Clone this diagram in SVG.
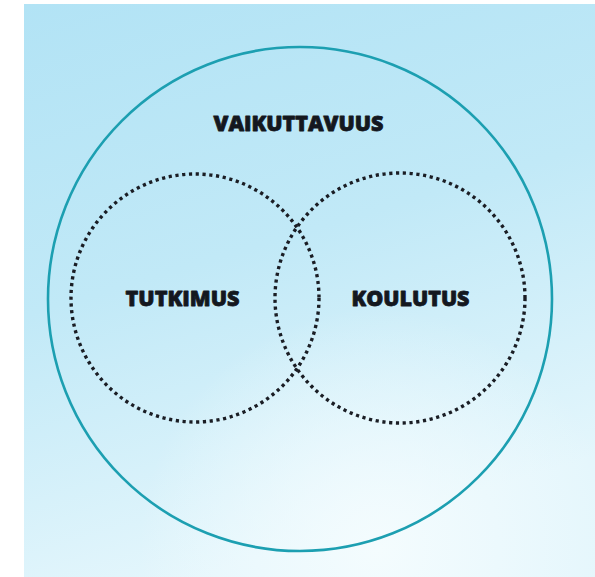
<svg xmlns="http://www.w3.org/2000/svg" width="595" height="577" viewBox="0 0 595 577">
<defs>
<linearGradient id="bg" x1="0" y1="0" x2="0.3" y2="1">
<stop offset="0" stop-color="#b2e3f5"/>
<stop offset="0.5" stop-color="#c1e9f7"/>
<stop offset="1" stop-color="#e4f6fc"/>
</linearGradient>
<radialGradient id="glow" cx="0.62" cy="0.95" r="0.42">
<stop offset="0" stop-color="#f4fcfe" stop-opacity="1"/>
<stop offset="1" stop-color="#f4fcfe" stop-opacity="0"/>
</radialGradient>
<style>
.lbl{font-family:"Open Sans","Liberation Sans",sans-serif;font-weight:800;fill:#14181f;stroke:#14181f;stroke-width:0.8;stroke-linejoin:round;text-anchor:middle}
.dot{fill:none;stroke:#1a1d24;stroke-width:3.4;stroke-dasharray:3.2 3.6}
</style>
</defs>
<rect x="0" y="0" width="595" height="577" fill="#ffffff"/>
<rect x="24" y="4" width="571" height="573" fill="url(#bg)"/>
<rect x="24" y="4" width="571" height="573" fill="url(#glow)"/>
<g id="vaikuttavuus">
<circle cx="300" cy="299" r="252" fill="none" stroke="#1c9fb1" stroke-width="2.6"/>
<text class="lbl" x="298.5" y="131" font-size="21" textLength="170" lengthAdjust="spacingAndGlyphs">VAIKUTTAVUUS</text>
</g>
<g id="tutkimus">
<circle class="dot" cx="195" cy="298" r="124"/>
<text class="lbl" x="182.5" y="306" font-size="21.5" textLength="114" lengthAdjust="spacingAndGlyphs">TUTKIMUS</text>
</g>
<g id="koulutus">
<circle class="dot" cx="400" cy="298" r="125"/>
<text class="lbl" x="410.5" y="306" font-size="21.5" textLength="118" lengthAdjust="spacingAndGlyphs">KOULUTUS</text>
</g>
<g id="connectors"/>
</svg>
